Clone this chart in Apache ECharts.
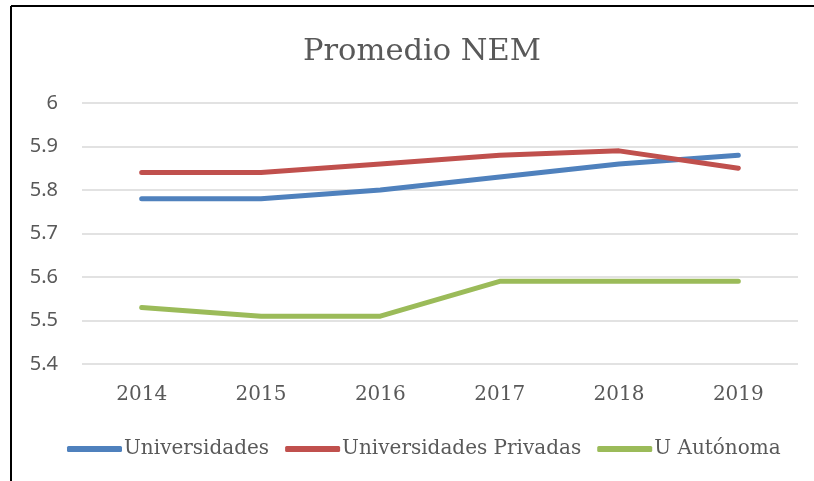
<!DOCTYPE html>
<html>
<head>
<meta charset="utf-8">
<script src="https://cdn.jsdelivr.net/npm/echarts@6/dist/echarts.min.js"></script>
<style>
  html, body { margin: 0; padding: 0; background: #fff; }
  #chart { width: 814px; height: 481px; }
</style>
</head>
<body>
<div id="chart"></div>
<script>
// Average NEM score by year and institution group
const years = ['2014', '2015', '2016', '2017', '2018', '2019'];
const universidades = [5.78, 5.78, 5.80, 5.83, 5.86, 5.88];
const privadas = [5.84, 5.84, 5.86, 5.88, 5.89, 5.85];
const autonoma = [5.53, 5.51, 5.51, 5.59, 5.59, 5.59];
const seriesNames = ['Universidades', 'Universidades Privadas', 'U Autónoma'];
const colors = ['#4f81bd', '#c0504d', '#9bbb59'];

const serif = '"DejaVu Serif", "Liberation Serif", serif';
const chart = echarts.init(document.getElementById('chart'));

function lineSeries(name, data, color) {
  return {
    name: name,
    type: 'line',
    data: data,
    symbol: 'none',
    smooth: false,
    lineStyle: { color: color, width: 5, cap: 'round', join: 'round' },
    itemStyle: { color: color }
  };
}

chart.setOption({
  animation: false,
  backgroundColor: '#fff',
  title: {
    text: 'Promedio NEM',
    left: 298,
    top: 32,
    textStyle: { fontFamily: serif, fontSize: 30.5, fontWeight: 'normal', color: '#595959' }
  },
  legend: {
    top: 434,
    left: 62,
    icon: 'roundRect',
    itemWidth: 55,
    itemHeight: 6,
    itemGap: 16,
    data: seriesNames,
    textStyle: { fontFamily: serif, fontSize: 20, color: '#595959', padding: [0, 0, 0, -3] }
  },
  grid: { left: 82, right: 16, top: 103, bottom: 117 },
  xAxis: {
    type: 'category',
    data: years,
    boundaryGap: true,
    axisLine: { show: false },
    axisTick: { show: false },
    axisLabel: { fontFamily: serif, fontSize: 20, color: '#595959', margin: 21 }
  },
  yAxis: {
    type: 'value',
    min: 5.4,
    max: 6,
    interval: 0.1,
    axisLine: { show: false },
    axisTick: { show: false },
    splitLine: { lineStyle: { color: '#d9d9d9', width: 1.5 } },
    axisLabel: {
      fontFamily: '"Noto Sans", sans-serif',
      fontSize: 20,
      color: '#595959',
      margin: 24,
      formatter: v => String(Math.round(v * 10) / 10)
    }
  },
  series: [
    lineSeries(seriesNames[0], universidades, colors[0]),
    lineSeries(seriesNames[1], privadas, colors[1]),
    lineSeries(seriesNames[2], autonoma, colors[2])
  ],
  graphic: [
    { type: 'line', shape: { x1: 11, y1: 6, x2: 814, y2: 6 }, style: { stroke: '#000', lineWidth: 2 } },
    { type: 'line', shape: { x1: 11, y1: 6, x2: 11, y2: 481 }, style: { stroke: '#000', lineWidth: 2 } }
  ]
});
</script>
</body>
</html>
